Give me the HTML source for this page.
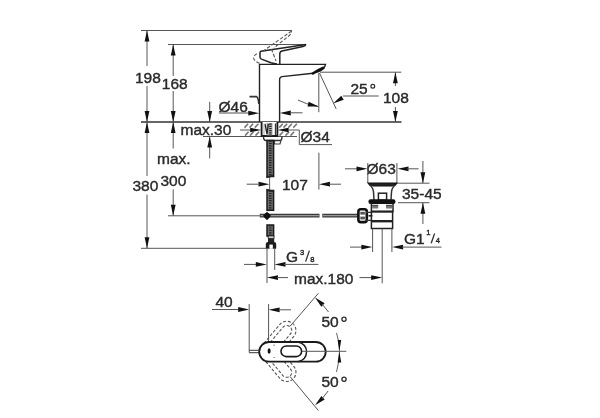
<!DOCTYPE html>
<html><head><meta charset="utf-8"><style>
html,body{margin:0;padding:0;background:#fff;}
svg{display:block;will-change:transform;}
</style></head><body>
<svg width="600" height="418" viewBox="0 0 600 418">
<rect width="600" height="418" fill="#fff"/>
<line x1="141" y1="30.5" x2="292" y2="30.5" stroke="#555" stroke-width="1" />
<line x1="168" y1="44.5" x2="306" y2="44.5" stroke="#555" stroke-width="1" />
<line x1="141" y1="122" x2="401.5" y2="122" stroke="#333" stroke-width="1.3" />
<line x1="203" y1="136.5" x2="297" y2="136.5" stroke="#555" stroke-width="1" />
<line x1="168" y1="215.8" x2="262" y2="215.8" stroke="#555" stroke-width="1" />
<line x1="141" y1="248.3" x2="266" y2="248.3" stroke="#555" stroke-width="1" />
<line x1="147.0" y1="30.5" x2="147.0" y2="66" stroke="#555" stroke-width="1" />
<line x1="147.0" y1="86" x2="147.0" y2="176" stroke="#555" stroke-width="1" />
<line x1="147.0" y1="194.5" x2="147.0" y2="248.3" stroke="#555" stroke-width="1" />
<polygon points="147.00,30.50 149.40,41.50 144.60,41.50" fill="#111"/>
<polygon points="147.00,122.00 144.60,111.00 149.40,111.00" fill="#111"/>
<polygon points="147.00,122.00 149.40,133.00 144.60,133.00" fill="#111"/>
<polygon points="147.00,248.30 144.60,237.30 149.40,237.30" fill="#111"/>
<line x1="173.2" y1="44.5" x2="173.2" y2="76" stroke="#555" stroke-width="1" />
<line x1="173.2" y1="91" x2="173.2" y2="148.5" stroke="#555" stroke-width="1" />
<line x1="173.2" y1="189.5" x2="173.2" y2="215.8" stroke="#555" stroke-width="1" />
<polygon points="173.20,44.50 175.60,55.50 170.80,55.50" fill="#111"/>
<polygon points="173.20,122.00 170.80,111.00 175.60,111.00" fill="#111"/>
<polygon points="173.20,122.00 175.60,133.00 170.80,133.00" fill="#111"/>
<polygon points="173.20,215.80 170.80,204.80 175.60,204.80" fill="#111"/>
<line x1="209.7" y1="101.8" x2="209.7" y2="122" stroke="#555" stroke-width="1" />
<line x1="209.7" y1="137" x2="209.7" y2="158.4" stroke="#555" stroke-width="1" />
<polygon points="209.70,122.00 207.30,111.00 212.10,111.00" fill="#111"/>
<polygon points="209.70,136.50 212.10,147.50 207.30,147.50" fill="#111"/>
<g font-family="Liberation Sans" fill="#2a2a2a" stroke="#2a2a2a" stroke-width="0.4">
<text transform="translate(135,82.5) scale(1,1.0)" font-size="15.5" text-anchor="start" >198</text>
<text transform="translate(161.8,89) scale(1,1.0)" font-size="15.5" text-anchor="start" >168</text>
<text transform="translate(180.5,135) scale(1,1.0)" font-size="15.5" text-anchor="start" >max.30</text>
<text transform="translate(157,163.5) scale(1,1.0)" font-size="15.5" text-anchor="start" >max.</text>
<text transform="translate(160.5,186) scale(1,1.0)" font-size="15.5" text-anchor="start" >300</text>
<text transform="translate(132.5,191) scale(1,1.0)" font-size="15.5" text-anchor="start" >380</text>
<text transform="translate(218.5,111.6) scale(1,1.0)" font-size="15.5" text-anchor="start" >&#216;46</text>
<text transform="translate(300.5,141.8) scale(1,1.0)" font-size="15.5" text-anchor="start" >&#216;34</text>
<text transform="translate(350.5,94) scale(1,1.0)" font-size="15.5" text-anchor="start" >25</text>
<circle cx="372.8" cy="86.3" r="1.9" fill="none" stroke="#2a2a2a" stroke-width="1.2"/>
<text transform="translate(383,103.3) scale(1,1.0)" font-size="15.5" text-anchor="start" >108</text>
<text transform="translate(282,189.5) scale(1,1.0)" font-size="15.5" text-anchor="start" >107</text>
<text transform="translate(366.5,174) scale(1,1.0)" font-size="15.5" text-anchor="start" >&#216;63</text>
<text transform="translate(402,198.6) scale(1,1.0)" font-size="15.5" text-anchor="start" >35-45</text>
<text transform="translate(286,262) scale(1,1.0)" font-size="15.5" text-anchor="start" >G</text>
<text transform="translate(299.9,254.6) scale(1,1.0)" font-size="7.6" text-anchor="start" >3</text>
<line x1="305.6" y1="261.6" x2="309.4" y2="250.6" stroke="#333" stroke-width="1.3"/>
<text transform="translate(310.2,261.7) scale(1,1.0)" font-size="7.6" text-anchor="start" >8</text>
<text transform="translate(294,283.6) scale(1,1.0)" font-size="15.5" text-anchor="start" >max.180</text>
<text transform="translate(404,244) scale(1,1.0)" font-size="15.5" text-anchor="start" >G1</text>
<text transform="translate(426.3,234.9) scale(1,1.0)" font-size="7.6" text-anchor="start" >1</text>
<line x1="431.2" y1="243.3" x2="434.6" y2="233.5" stroke="#333" stroke-width="1.3"/>
<text transform="translate(435.8,243.3) scale(1,1.0)" font-size="7.6" text-anchor="start" >4</text>
<text transform="translate(215.5,306.7) scale(1,1.0)" font-size="15.5" text-anchor="start" >40</text>
<text transform="translate(321.5,327.2) scale(1,1.0)" font-size="15.5" text-anchor="start" >50</text>
<circle cx="344" cy="319.2" r="2.1" fill="none" stroke="#2a2a2a" stroke-width="1.3"/>
<text transform="translate(321.5,386.6) scale(1,1.0)" font-size="15.5" text-anchor="start" >50</text>
<circle cx="344" cy="379.2" r="2.1" fill="none" stroke="#2a2a2a" stroke-width="1.3"/>
</g>
<path d="M259.5,122 L259.5,64.4 L325.5,64.4 Q324.5,69 320,71 L313,73.3 L282,76.6 Q279.6,77 279.6,79.5 L279.6,122" stroke="#222" stroke-width="1.4" fill="none" />
<path d="M312,74 Q318,70 324,67.5" stroke="#111" stroke-width="2.5" fill="none" />
<path d="M306,44.6 L261,51.2 Q260,51.5 260,52.8 L260,57.6 Q260.3,58.6 262,59.4 L271,62.8 Q274,63.8 277,64" stroke="#222" stroke-width="1.5" fill="none" />
<path d="M306,44.6 Q305.5,46 303,46.4 L282,51 Q279.8,51.6 279.8,54 L279.8,64.3" stroke="#222" stroke-width="1.5" fill="none" />
<g fill="none" stroke="#555" stroke-width="1.1" stroke-dasharray="3.5,1.8">
<path d="M291.6,31 L264,50.5" stroke="#555" stroke-width="1.1" fill="none" />
<path d="M291.6,31.5 Q291.5,33.5 289,35.8 L274,47.8" stroke="#555" stroke-width="1.1" fill="none" stroke-dashoffset="2.5"/>
<path d="M271.5,49 L276,61" stroke="#555" stroke-width="1.1" fill="none" />
<path d="M257,53.8 Q253.5,55.5 253.5,58 Q254.5,61.5 260,63.5" stroke="#666" stroke-width="1.1" fill="none" />
</g>
<line x1="219" y1="113" x2="249" y2="113" stroke="#777" stroke-width="1.3" />
<polygon points="259.30,113.20 248.30,115.60 248.30,110.80" fill="#111"/>
<polygon points="279.80,113.00 290.80,110.60 290.80,115.40" fill="#111"/>
<line x1="290" y1="112.8" x2="302.5" y2="112.8" stroke="#555" stroke-width="1" />
<path d="M249.5,96.6 L256.5,96.6 Q258.5,98 258.8,104" stroke="#333" stroke-width="1.6" fill="none" />
<line x1="318.8" y1="72.7" x2="318.8" y2="112.2" stroke="#555" stroke-width="1" />
<line x1="320" y1="72.2" x2="401.3" y2="72.2" stroke="#555" stroke-width="1" />
<line x1="319.5" y1="73" x2="336.2" y2="108.9" stroke="#555" stroke-width="1" />
<polygon points="333.10,103.50 341.26,95.75 343.75,99.85" fill="#111"/>
<line x1="343" y1="96" x2="378.7" y2="96" stroke="#555" stroke-width="1" />
<path d="M298,100 Q305,104 318,106.5" stroke="#555" stroke-width="1" fill="none" />
<polygon points="318.80,106.60 307.54,106.44 308.63,101.77" fill="#111"/>
<line x1="395.4" y1="72.2" x2="395.4" y2="86" stroke="#555" stroke-width="1" />
<line x1="395.4" y1="107" x2="395.4" y2="122" stroke="#555" stroke-width="1" />
<polygon points="395.40,72.20 397.80,83.20 393.00,83.20" fill="#111"/>
<polygon points="395.40,122.00 393.00,111.00 397.80,111.00" fill="#111"/>
<line x1="244.5" y1="127.6" x2="248.1" y2="123.8" stroke="#777" stroke-width="1.6" />
<line x1="249.5" y1="127.6" x2="253.1" y2="123.8" stroke="#777" stroke-width="1.6" />
<line x1="254.8" y1="127.6" x2="258.40000000000003" y2="123.8" stroke="#777" stroke-width="1.6" />
<line x1="279.2" y1="127.6" x2="282.8" y2="123.8" stroke="#777" stroke-width="1.6" />
<line x1="283.5" y1="127.6" x2="287.1" y2="123.8" stroke="#777" stroke-width="1.6" />
<line x1="288.3" y1="127.6" x2="291.90000000000003" y2="123.8" stroke="#777" stroke-width="1.6" />
<line x1="293.3" y1="127.6" x2="296.90000000000003" y2="123.8" stroke="#777" stroke-width="1.6" />
<line x1="245" y1="135.6" x2="248.6" y2="131.8" stroke="#777" stroke-width="1.6" />
<line x1="250" y1="135.6" x2="253.6" y2="131.8" stroke="#777" stroke-width="1.6" />
<line x1="255.5" y1="135.6" x2="259.1" y2="131.8" stroke="#777" stroke-width="1.6" />
<line x1="279.5" y1="135.6" x2="283.1" y2="131.8" stroke="#777" stroke-width="1.6" />
<line x1="285.5" y1="135.6" x2="289.1" y2="131.8" stroke="#777" stroke-width="1.6" />
<line x1="290.5" y1="135.6" x2="294.1" y2="131.8" stroke="#777" stroke-width="1.6" />
<line x1="240" y1="130" x2="252" y2="130" stroke="#555" stroke-width="1" />
<polygon points="261.20,130.00 250.20,132.30 250.20,127.70" fill="#111"/>
<polygon points="277.60,130.00 288.60,127.70 288.60,132.30" fill="#111"/>
<polyline points="288.00,130.00 299.30,130.00 299.30,144.60 332.00,144.60" stroke="#555" stroke-width="1" fill="none" />
<path d="M261.6,122 L261.6,136 L277.4,136 L277.4,122" stroke="#1a1a1a" stroke-width="1.8" fill="#fff" />
<rect x="266.5" y="123" width="6" height="12.3" fill="#aaa"/>
<path d="M265,124 L267,134 L268.3,124" stroke="#222" stroke-width="1.3" fill="none" />
<line x1="270.4" y1="123.5" x2="270.4" y2="135" stroke="#222" stroke-width="2.4" stroke-dasharray="1.2,1"/>
<line x1="275.5" y1="123.5" x2="275.5" y2="135" stroke="#333" stroke-width="1.3" />
<line x1="264" y1="123.5" x2="264" y2="135" stroke="#999" stroke-width="0.8" />
<path d="M263.5,136.5 Q263.5,140.5 266,140.5 L280,140.5 Q282,140.5 282,136.5" stroke="#333" stroke-width="1.4" fill="none" />
<path d="M274.5,140.5 L274.5,144 L280,144 L281,140.5" stroke="#444" stroke-width="1.2" fill="none" />
<rect x="267" y="140.5" width="6.6" height="36.0" fill="#6a6a6a" stroke="#1a1a1a" stroke-width="1.5"/>
<line x1="270.3" y1="140.5" x2="270.3" y2="176.5" stroke="#222" stroke-width="2.6" stroke-dasharray="1.2,1.2"/>
<rect x="267" y="190.5" width="6.6" height="19.80000000000001" fill="#6a6a6a" stroke="#1a1a1a" stroke-width="1.5"/>
<line x1="270.3" y1="190.5" x2="270.3" y2="210.3" stroke="#222" stroke-width="2.6" stroke-dasharray="1.2,1.2"/>
<rect x="267" y="225" width="6.6" height="11" fill="#6a6a6a" stroke="#1a1a1a" stroke-width="1.5"/>
<line x1="270.3" y1="225" x2="270.3" y2="236" stroke="#222" stroke-width="2.6" stroke-dasharray="1.2,1.2"/>
<line x1="269.6" y1="177" x2="269.6" y2="190" stroke="#666" stroke-width="1" />
<path d="M266.3,177.5 L274,175.5" stroke="#222" stroke-width="1.3" fill="none" />
<path d="M266.3,189.5 L274,191.5" stroke="#222" stroke-width="1.3" fill="none" />
<polygon points="269.50,184.20 258.50,186.60 258.50,181.80" fill="#111"/>
<line x1="246.7" y1="184.2" x2="260" y2="184.2" stroke="#555" stroke-width="1" />
<line x1="318.9" y1="152.7" x2="318.9" y2="189.5" stroke="#555" stroke-width="1" />
<polygon points="319.00,184.20 330.00,181.80 330.00,186.60" fill="#111"/>
<line x1="329" y1="184.2" x2="341" y2="184.2" stroke="#555" stroke-width="1" />
<line x1="259.8" y1="215.6" x2="319.5" y2="215.6" stroke="#3a3a3a" stroke-width="3.6" />
<line x1="322.3" y1="215.6" x2="358" y2="215.6" stroke="#3a3a3a" stroke-width="3.6" />
<line x1="260.5" y1="215.6" x2="319" y2="215.6" stroke="#999" stroke-width="1.4" />
<line x1="322.8" y1="215.6" x2="358" y2="215.6" stroke="#999" stroke-width="1.4" />
<polygon points="267,211.8 271,215.8 267,220.3 263,215.8" fill="#111"/>
<circle cx="267" cy="215.8" r="2.9" fill="#111"/>
<rect x="268.2" y="236" width="5.8" height="2.2" fill="#fff" stroke="#222" stroke-width="0.9"/>
<rect x="268" y="238.3" width="6.2" height="4.5" fill="#222"/>
<path d="M265.8,248.8 L265.8,244 Q265.8,242 268,242 L274,242 Q276.2,242 276.2,244 L276.2,248.8 Z" fill="#1a1a1a"/>
<rect x="269.4" y="244.6" width="3.4" height="4.2" fill="#fff"/>
<line x1="267" y1="248.3" x2="267" y2="283" stroke="#555" stroke-width="1" />
<line x1="274.7" y1="248.3" x2="274.7" y2="270" stroke="#555" stroke-width="1" />
<line x1="244" y1="264.4" x2="258" y2="264.4" stroke="#555" stroke-width="1" />
<polygon points="266.80,264.40 255.80,266.80 255.80,262.00" fill="#111"/>
<polygon points="274.50,264.40 285.50,262.00 285.50,266.80" fill="#111"/>
<line x1="284" y1="264.4" x2="318.4" y2="264.4" stroke="#555" stroke-width="1" />
<polygon points="267.00,277.60 278.00,275.20 278.00,280.00" fill="#111"/>
<line x1="277" y1="277.6" x2="288" y2="277.6" stroke="#555" stroke-width="1" />
<line x1="359.5" y1="277.6" x2="374" y2="277.6" stroke="#555" stroke-width="1" />
<polygon points="382.20,277.60 371.20,280.00 371.20,275.20" fill="#111"/>
<line x1="367.8" y1="163" x2="367.8" y2="183" stroke="#555" stroke-width="1" />
<line x1="396.9" y1="163" x2="396.9" y2="183" stroke="#555" stroke-width="1" />
<line x1="345" y1="168.8" x2="358" y2="168.8" stroke="#555" stroke-width="1" />
<polygon points="367.50,168.80 356.50,171.20 356.50,166.40" fill="#111"/>
<polygon points="397.50,168.80 408.50,166.40 408.50,171.20" fill="#111"/>
<line x1="407" y1="168.8" x2="418.6" y2="168.8" stroke="#555" stroke-width="1" />
<path d="M368,183 L397,183 Q395,186 392,186 L373,186 Q370,186 368,183 Z" stroke="#111" stroke-width="1.2" fill="#222" />
<path d="M369.5,185 Q373.2,187.5 373.5,192 L374,200" stroke="#333" stroke-width="1.5" fill="none" />
<path d="M395.5,185 Q391.8,187.5 391.5,192 L391,200" stroke="#333" stroke-width="1.5" fill="none" />
<rect x="378.4" y="193.2" width="8.2" height="7" fill="#fff" stroke="#222" stroke-width="1.5"/>
<rect x="368.4" y="199.3" width="27.1" height="4.6" rx="2.2" fill="#111"/>
<path d="M371.4,203.5 L371.4,211.6 L393,211.6 L393,203.5" stroke="#222" stroke-width="1.5" fill="none" />
<rect x="372.2" y="205" width="6" height="3.5" fill="#777"/>
<rect x="386" y="205" width="6.2" height="3.5" fill="#777"/>
<line x1="372.2" y1="205.3" x2="378.2" y2="205.3" stroke="#444" stroke-width="1" />
<line x1="386" y1="205.3" x2="392.2" y2="205.3" stroke="#444" stroke-width="1" />
<line x1="371.4" y1="211.6" x2="393" y2="211.6" stroke="#222" stroke-width="2" />
<path d="M371.4,211.6 L371.4,228.4 L392.6,228.4 L392.6,211.6" stroke="#222" stroke-width="1.5" fill="none" />
<line x1="371.4" y1="221.2" x2="392.6" y2="221.2" stroke="#222" stroke-width="2.4" />
<rect x="358.4" y="209.2" width="8.4" height="12.9" rx="2.4" fill="#fff" stroke="#111" stroke-width="2.6"/>
<rect x="360.3" y="211.8" width="4.6" height="2.8" fill="#555"/>
<rect x="360.3" y="216.6" width="4.6" height="2.8" fill="#555"/>
<path d="M366,212.3 L371,212.3 M366,220.3 L371,220.3" stroke="#333" stroke-width="1.2" fill="none" />
<line x1="368.5" y1="215.8" x2="372.5" y2="215.8" stroke="#222" stroke-width="1.6" />
<line x1="372.6" y1="228.6" x2="372.6" y2="252" stroke="#555" stroke-width="1" />
<line x1="391.9" y1="228.6" x2="391.9" y2="252" stroke="#555" stroke-width="1" />
<line x1="382.2" y1="228.6" x2="382.2" y2="283.3" stroke="#555" stroke-width="1" />
<line x1="397" y1="183.2" x2="429.5" y2="183.2" stroke="#555" stroke-width="1" />
<line x1="398" y1="202.7" x2="429.5" y2="202.7" stroke="#555" stroke-width="1" />
<line x1="422.9" y1="161" x2="422.9" y2="183" stroke="#555" stroke-width="1" />
<polygon points="422.90,183.20 420.50,172.20 425.30,172.20" fill="#111"/>
<line x1="422.9" y1="202.7" x2="422.9" y2="224" stroke="#555" stroke-width="1" />
<polygon points="422.90,202.70 425.30,213.70 420.50,213.70" fill="#111"/>
<line x1="350" y1="247.1" x2="363" y2="247.1" stroke="#555" stroke-width="1" />
<polygon points="372.40,247.10 361.40,249.50 361.40,244.70" fill="#111"/>
<polygon points="392.10,247.10 403.10,244.70 403.10,249.50" fill="#111"/>
<line x1="402" y1="247.1" x2="441.5" y2="247.1" stroke="#555" stroke-width="1" />
<line x1="212" y1="309.5" x2="240" y2="309.5" stroke="#555" stroke-width="1" />
<polygon points="249.20,309.50 238.20,311.90 238.20,307.10" fill="#111"/>
<line x1="249.2" y1="304" x2="249.2" y2="352.5" stroke="#555" stroke-width="1" />
<line x1="268.6" y1="304" x2="268.6" y2="342" stroke="#555" stroke-width="1" />
<polygon points="268.60,309.80 279.60,307.40 279.60,312.20" fill="#111"/>
<line x1="278.5" y1="309.8" x2="291" y2="309.8" stroke="#555" stroke-width="1" />
<line x1="249.2" y1="350.3" x2="259.5" y2="350.3" stroke="#333" stroke-width="1" />
<line x1="249.2" y1="352.7" x2="259.5" y2="352.7" stroke="#333" stroke-width="1" />
<defs><clipPath id="cu"><rect x="240" y="300" width="80" height="42.5"/></clipPath><clipPath id="cl"><rect x="240" y="361" width="80" height="40"/></clipPath></defs>
<g clip-path="url(#cu)"><g transform="rotate(-50 269.2 351.4)" stroke="#555" stroke-width="1.1" fill="none" stroke-dasharray="3,1.8">
<path d="M267.2,342.2 L296.5,342.2 A9.2,9.2 0 0 1 296.5,360.59999999999997 L267.2,360.59999999999997" stroke="#555" stroke-width="1.1" fill="none" />
<path d="M267.2,346.4 L296.5,346.4 A5.0,5.0 0 0 1 296.5,356.4 L267.2,356.4" stroke="#555" stroke-width="1.1" fill="none" />
</g></g>
<g clip-path="url(#cl)"><g transform="rotate(50 269.2 351.4)" stroke="#555" stroke-width="1.1" fill="none" stroke-dasharray="3,1.8">
<path d="M267.2,342.2 L296.5,342.2 A9.2,9.2 0 0 1 296.5,360.59999999999997 L267.2,360.59999999999997" stroke="#555" stroke-width="1.1" fill="none" />
<path d="M267.2,346.4 L296.5,346.4 A5.0,5.0 0 0 1 296.5,356.4 L267.2,356.4" stroke="#555" stroke-width="1.1" fill="none" />
</g></g>
<rect x="259.2" y="342" width="66.5" height="19.7" rx="9.85" fill="#fff" stroke="#1a1a1a" stroke-width="1.8"/>
<path d="M298,342 Q306.5,344 306.5,351.8 Q306.5,359.7 298,361.7" stroke="#222" stroke-width="1.5" fill="none" />
<rect x="281" y="346" width="20.6" height="10.6" rx="5.3" fill="#fff" stroke="#1a1a1a" stroke-width="1.6"/>
<ellipse cx="269.1" cy="351" rx="1.5" ry="2.8" fill="#111"/>
<circle cx="274.1" cy="345.2" r="0.6" fill="#555"/>
<circle cx="274.1" cy="357.5" r="0.6" fill="#555"/>
<line x1="302" y1="351.3" x2="346.3" y2="351.3" stroke="#555" stroke-width="1" />
<line x1="290" y1="326.3" x2="318.4" y2="293.3" stroke="#555" stroke-width="1" />
<polygon points="315.00,297.40 324.64,303.21 321.35,306.70" fill="#111"/>
<line x1="322" y1="304" x2="328.5" y2="312" stroke="#555" stroke-width="1" />
<line x1="290" y1="376.5" x2="318.4" y2="410.5" stroke="#555" stroke-width="1" />
<polygon points="315.00,405.30 321.41,396.05 324.68,399.56" fill="#111"/>
<line x1="322" y1="398.8" x2="328.1" y2="391" stroke="#555" stroke-width="1" />
<path d="M336.5,333 Q339.5,342 339.5,351.3 Q339.5,361 336.5,372" stroke="#666" stroke-width="1" fill="none" />
<polygon points="339.40,351.10 337.60,340.10 341.20,340.10" fill="#111"/>
<polygon points="339.40,351.50 341.20,362.50 337.60,362.50" fill="#111"/>
</svg></body></html>
